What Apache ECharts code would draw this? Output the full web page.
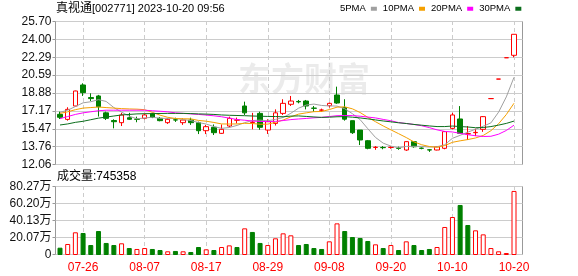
<!DOCTYPE html>
<html><head><meta charset="utf-8">
<script src="https://cdn.jsdelivr.net/npm/echarts@6/dist/echarts.min.js"></script>
<style>html,body{margin:0;padding:0;background:#fff}#c{width:578px;height:276px}</style>
</head><body><div id="c"></div>
<script>
const dates = ['07-21','07-24','07-25','07-26','07-27','07-28','07-31','08-01','08-02','08-03','08-04','08-07','08-08','08-09','08-10','08-11','08-14','08-15','08-16','08-17','08-18','08-21','08-22','08-23','08-24','08-25','08-28','08-29','08-30','08-31','09-01','09-04','09-05','09-06','09-07','09-08','09-11','09-12','09-13','09-14','09-15','09-18','09-19','09-20','09-21','09-22','09-25','09-26','09-27','09-28','10-09','10-10','10-11','10-12','10-13','10-16','10-17','10-18','10-19','10-20'];
const labelDates = ['07-26','08-07','08-17','08-29','09-08','09-20','10-10','10-20'];
const opens = [16.86,16.38,17.65,19.64,18.45,18.60,17.00,16.27,16.07,16.54,16.41,16.48,16.89,16.48,16.07,16.34,16.07,16.32,16.07,15.31,15.63,15.06,15.75,16.30,17.65,16.08,16.95,15.37,16.00,16.95,17.81,18.08,18.12,17.45,17.25,17.68,18.69,17.50,16.26,15.37,14.36,13.72,13.72,13.72,13.66,13.48,14.27,13.66,13.50,13.48,13.64,15.53,16.42,15.00,15.12,15.44,18.35,20.20,22.22,22.45];
const closes = [16.58,17.33,19.07,18.91,18.35,17.58,16.48,16.16,16.80,16.39,16.39,16.80,16.58,16.26,16.39,16.32,16.32,16.07,15.31,15.69,15.12,15.44,16.48,16.33,17.00,16.12,15.63,16.16,17.00,17.90,18.12,18.04,17.65,17.43,17.27,17.90,17.93,16.40,15.12,14.43,13.64,13.74,13.70,13.74,13.64,14.27,13.79,13.64,13.48,13.79,15.22,16.80,15.06,15.03,15.15,16.64,18.35,20.20,22.22,24.44];
const lows = [16.42,16.26,17.60,18.60,18.12,16.65,16.32,15.53,15.75,16.32,16.11,16.39,16.50,16.20,15.95,16.14,15.86,15.86,14.99,14.99,14.90,15.00,15.63,16.00,16.80,15.44,15.40,15.00,15.80,16.80,17.65,17.90,17.33,17.11,17.10,17.50,17.85,16.26,15.00,13.95,13.55,13.50,13.55,13.60,13.50,13.40,13.70,13.55,13.30,13.45,13.55,15.44,15.06,14.43,14.80,15.20,18.35,20.20,22.22,22.26];
const highs = [17.11,17.53,19.10,19.80,18.85,18.70,17.11,16.39,17.00,17.00,16.64,16.92,17.00,16.60,16.48,16.54,16.48,16.54,16.17,15.86,15.90,15.90,16.64,16.55,18.06,17.00,17.11,16.39,17.33,18.29,18.60,18.22,18.22,17.65,17.40,17.98,19.48,18.29,16.26,15.37,14.43,13.85,13.85,13.85,13.80,14.30,14.30,13.72,13.55,13.85,15.28,17.00,17.64,15.75,15.50,16.70,18.35,20.20,22.22,24.44];
const ma5 = [17.05,17.25,17.60,17.95,18.05,18.25,18.08,17.50,17.07,16.68,16.44,16.51,16.59,16.48,16.48,16.47,16.37,16.27,16.08,15.94,15.70,15.53,15.61,15.81,16.07,16.27,16.31,16.25,16.38,16.56,16.96,17.44,17.74,17.83,17.70,17.66,17.64,17.39,16.92,16.36,15.50,14.67,14.13,13.85,13.69,13.82,13.83,13.82,13.76,13.79,13.98,14.59,14.87,15.17,15.45,15.73,16.05,17.07,18.51,20.37];
const ma10 = [16.95,17.10,17.30,17.45,17.50,17.55,17.50,17.45,17.40,17.37,17.35,17.30,17.05,16.78,16.58,16.46,16.44,16.43,16.28,16.21,16.09,15.95,15.94,15.95,16.01,15.99,15.92,15.93,16.10,16.32,16.62,16.88,17.00,17.11,17.13,17.31,17.54,17.57,17.38,17.03,16.58,16.16,15.76,15.39,15.03,14.66,14.25,13.98,13.81,13.74,13.90,14.21,14.35,14.47,14.62,14.86,15.31,15.97,16.84,17.91];
const ma20 = [16.45,16.65,16.85,17.00,17.10,17.20,17.25,17.25,17.25,17.25,17.25,17.25,17.20,17.15,17.10,17.00,16.95,16.90,16.85,16.79,16.72,16.63,16.50,16.37,16.30,16.23,16.18,16.18,16.19,16.27,16.36,16.42,16.47,16.53,16.57,16.65,16.73,16.75,16.74,16.68,16.60,16.52,16.38,16.25,16.08,15.99,15.90,15.78,15.60,15.39,15.24,15.19,15.06,14.93,14.83,14.76,14.78,14.98,15.33,15.83];
const ma30 = [15.85,15.95,16.10,16.20,16.35,16.50,16.60,16.70,16.80,16.85,16.90,16.92,16.93,16.94,16.95,16.95,16.95,16.93,16.90,16.88,16.85,16.80,16.77,16.75,16.73,16.70,16.68,16.66,16.65,16.63,16.69,16.71,16.66,16.61,16.57,16.59,16.63,16.64,16.59,16.52,16.43,16.33,16.23,16.15,16.06,15.99,15.90,15.83,15.76,15.70,15.70,15.75,15.70,15.66,15.59,15.61,15.70,15.84,16.00,16.22];
const volumes = [8.5,12.8,26.4,25.6,11.6,27.9,14.0,11.6,13.6,8.1,7.0,8.1,7.0,5.8,4.3,4.7,4.3,3.5,9.3,6.6,5.8,9.3,11.2,9.3,31.0,26.8,14.0,11.6,19.4,25.2,22.9,11.6,12.8,8.1,7.0,15.9,36.8,27.9,20.9,19.8,16.3,12.4,8.1,11.6,5.8,15.9,11.6,5.8,7.0,9.3,32.6,44.2,58.2,34.9,28.7,24.0,8.1,4.3,2.3,74.54];
const volumeUp = [0,1,1,0,0,0,0,0,1,0,1,1,0,0,1,0,1,0,0,1,0,1,1,0,1,0,0,1,1,1,1,0,0,0,0,1,1,0,0,0,0,1,0,1,0,1,0,0,0,1,1,1,0,0,1,1,1,1,1,1];
const priceTicks = ['12.06','13.76','15.47','17.17','18.88','20.59','22.29','24.00','25.70'];
const volumeTicks = ['0','20.07万','40.13万','60.20万','80.27万'];
const maNames = ['5PMA','10PMA','20PMA','30PMA'];

const RED = '#ff0000', GREEN = '#008000';
const FONT = '"Liberation Sans","Noto Sans CJK SC",sans-serif';
const kData = opens.map((o, i) => [o, closes[i], lows[i], highs[i]]);
const volData = volumes.map((v, i) => ({
  value: v,
  itemStyle: volumeUp[i] ? {color: '#fff', borderColor: RED, borderWidth: 1} : {color: GREEN, borderColor: GREEN, borderWidth: 1}
}));
const showLabel = (idx, val) => labelDates.indexOf(val) >= 0;

const chart = echarts.init(document.getElementById('c'), null, {renderer: 'canvas'});
const maColors = ['#a0a0a0', '#f5a000', '#ff00ff', '#0b6e1c'];
const maData = [ma5, ma10, ma20, ma30];

chart.setOption({
  animation: false,
  backgroundColor: '#fff',
  title: [
    {text: '{c|真视通}{a|[002771] 2023-10-20 09:56}', left: 56, top: 3, padding: 0,
     textStyle: {fontSize: 12, fontWeight: 'normal', color: '#000', fontFamily: FONT,
       rich: {c: {fontSize: 12, color: '#000', fontFamily: FONT}, a: {fontSize: 11, color: '#000', fontFamily: FONT}}}},
    {text: '成交量:745358', left: 57, top: 171, padding: 0,
     textStyle: {fontSize: 12, fontWeight: 'normal', color: '#000', fontFamily: FONT}}
  ],
  legend: {
    data: maNames, left: 340, top: 4, padding: 0, align: 'right', itemGap: 6,
    icon: 'rect', itemWidth: 6, itemHeight: 4, selectedMode: false,
    textStyle: {fontSize: 9.5, color: '#000', fontFamily: FONT}
  },
  graphic: [{
    type: 'text', left: 238, top: 62, silent: true, z: -1,
    style: {text: '东方财富', font: 'bold 33px "Noto Sans CJK SC"', fill: 'rgba(0,0,0,0.08)'}
  }],
  grid: [
    {left: 60, right: 64, top: 21, height: 144},
    {left: 60, right: 64, top: 186, height: 69},
    {left: 55.5, right: 55.5, top: 21.5, height: 143, show: true, borderColor: '#999', borderWidth: 1, backgroundColor: 'transparent'},
    {left: 55.5, right: 55.5, top: 186.5, height: 68, show: true, borderColor: '#999', borderWidth: 1, backgroundColor: 'transparent'}
  ],
  xAxis: [
    {type: 'category', gridIndex: 0, data: dates, boundaryGap: false,
     axisLine: {show: false}, axisTick: {show: false}, axisLabel: {show: false, interval: showLabel},
     splitLine: {show: true, interval: showLabel, lineStyle: {color: '#ccc', type: [4, 3]}}},
    {type: 'category', gridIndex: 1, data: dates, boundaryGap: false,
     axisLine: {show: false}, axisTick: {show: false},
     axisLabel: {show: true, interval: showLabel, color: RED, fontSize: 12, fontFamily: FONT, margin: 7},
     splitLine: {show: true, interval: showLabel, lineStyle: {color: '#ccc', type: [4, 3]}}},
    {type: 'value', gridIndex: 2, min: 0, max: 1, show: false},
    {type: 'value', gridIndex: 3, min: 0, max: 1, show: false}
  ],
  yAxis: [
    {type: 'value', gridIndex: 0, min: 12.06, max: 25.70, show: false, splitLine: {show: false}},
    {type: 'value', gridIndex: 1, min: 0, max: 80.27, show: false, splitLine: {show: false}},
    {type: 'value', gridIndex: 2, min: 0, max: 8, interval: 1,
     axisLine: {show: false}, axisTick: {show: true, length: 3, lineStyle: {color: '#999'}},
     axisLabel: {formatter: v => priceTicks[v], color: '#111', fontSize: 12, fontFamily: FONT, margin: 4},
     splitLine: {show: true, lineStyle: {color: '#ccc'}}},
    {type: 'value', gridIndex: 3, min: 0, max: 4, interval: 1,
     axisLine: {show: false}, axisTick: {show: true, length: 3, lineStyle: {color: '#999'}},
     axisLabel: {formatter: v => volumeTicks[v], color: '#111', fontSize: 12, fontFamily: FONT, margin: 4},
     splitLine: {show: true, lineStyle: {color: '#ccc'}}}
  ],
  series: [
    {type: 'candlestick', name: 'K', xAxisIndex: 0, yAxisIndex: 0, data: kData, barWidth: 5, clip: false,
     itemStyle: {color: '#fff', color0: GREEN, borderColor: RED, borderColor0: GREEN, borderWidth: 1}},
    ...maNames.map((n, k) => ({
      type: 'line', name: n, xAxisIndex: 0, yAxisIndex: 0, data: maData[k], symbol: 'none', smooth: false,
      lineStyle: {width: 1, color: maColors[k]}, itemStyle: {color: maColors[k]}, z: 3
    })),
    {type: 'bar', name: 'VOL', xAxisIndex: 1, yAxisIndex: 1, data: volData, barWidth: 5, clip: false}
  ]
});
</script></body></html>
